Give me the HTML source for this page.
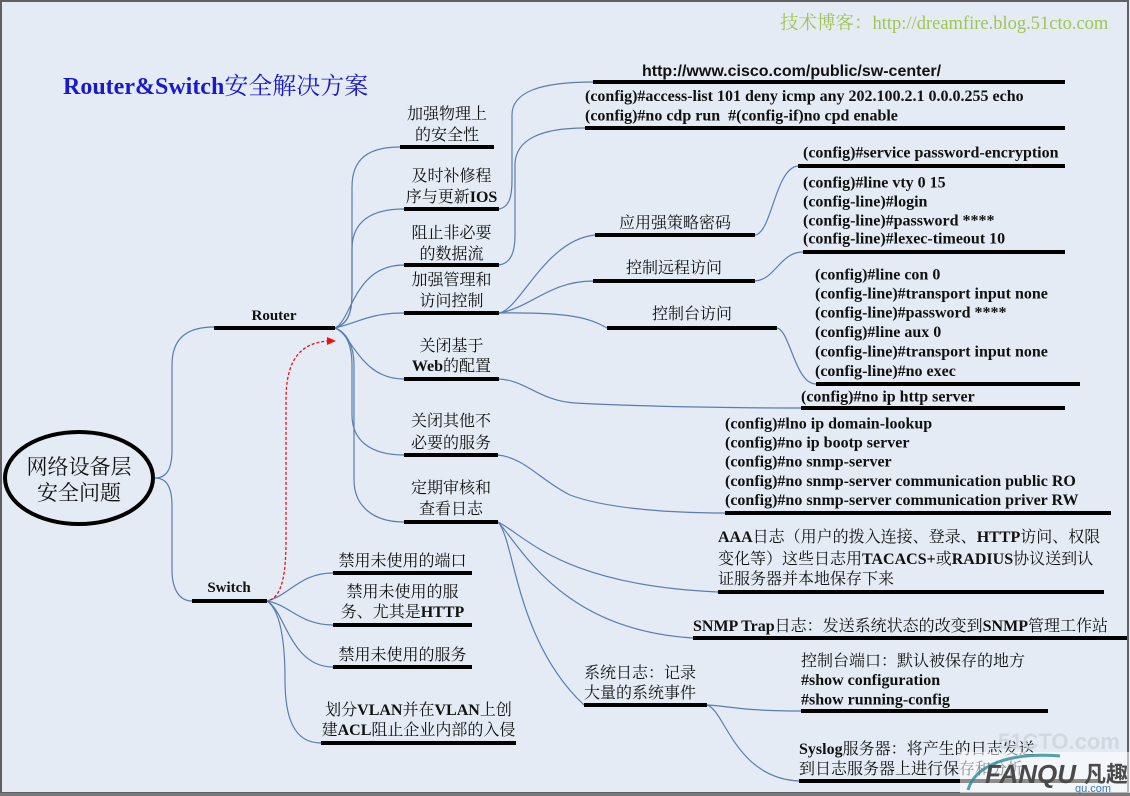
<!DOCTYPE html>
<html>
<head>
<meta charset="utf-8">
<style>
html,body{margin:0;padding:0;background:#e4ebf5;}
body{width:1130px;height:796px;overflow:hidden;}
svg{display:block;}
.c{fill:none;stroke:#5a7db0;stroke-width:1.2;}
.u{stroke:#000;stroke-width:4;}
.t{font-family:"Liberation Serif","Noto Serif CJK SC",serif;font-size:16px;fill:#111;}
.m{text-anchor:middle;}
.b{font-weight:bold;}
</style>
</head>
<body>
<svg width="1130" height="796" viewBox="0 0 1130 796" xmlns="http://www.w3.org/2000/svg">
<rect x="0" y="0" width="1130" height="796" fill="#e4ebf5"/>
<rect x="1" y="1" width="1127" height="792" fill="none" stroke="#606060" stroke-width="2"/>
<rect x="0" y="793" width="1130" height="3" fill="#7a7a7a"/>

<!-- title -->
<text x="63" y="94" font-size="24" fill="#1a1acd" font-family="Liberation Serif,'Noto Serif CJK SC',serif"><tspan font-weight="bold">Router&amp;Switch</tspan><tspan>安全解决方案</tspan></text>
<text x="780" y="29" font-size="18.5" fill="#9fc650" font-family="Liberation Serif,'Noto Serif CJK SC',serif">技术博客：http://dreamfire.blog.51cto.com</text>

<!-- connectors -->
<g class="c">
<!-- root -->
<path d="M155,478 C166,478 172,470 172,450 L172,365 C172,340 185,327 214,327"/>
<path d="M155,478 C166,478 172,486 172,506 L172,570 C172,590 180,601 192,601"/>
<!-- router branches -->
<path d="M335,328 C348,324 352,312 352,295 L352,187 C352,159 368,147 400,147"/>
<path d="M335,328 C348,324 352,312 352,295 L352,249 C352,221 372,209 404,209"/>
<path d="M335,328 C352,320 354,265 404,265"/>
<path d="M335,328 C360,322 370,313 404,313"/>
<path d="M335,328 C352,334 360,379 404,379"/>
<path d="M335,328 C346,332 352,345 352,365 L352,415 C352,440 370,455 404,455"/>
<path d="M335,328 C346,332 354,345 354,365 L354,480 C354,505 372,522 404,522"/>
<!-- level 3 -->
<path d="M499,209 C510,207 512,195 512,180 L512,115 C512,92 540,82 593,82"/>
<path d="M499,265 C512,263 515,250 515,235 L515,165 C515,140 540,128 585,128"/>
<path d="M499,313 C520,310 545,240 595,235"/>
<path d="M499,313 C530,308 550,281 593,281"/>
<path d="M499,313 C570,312 590,318 607,328"/>
<path d="M755,235 C772,233 775,168 798,166"/>
<path d="M755,281 C775,280 780,252 803,252"/>
<path d="M777,328 C790,330 795,384 816,384"/>
<path d="M499,379 C525,380 540,401 575,403 C650,407 750,408 801,408"/>
<path d="M498,455 C525,458 540,480 570,495 C610,510 680,513 725,513"/>
<path d="M498,522 C525,535 560,585 718,592"/>
<path d="M498,522 C520,545 560,630 693,638"/>
<path d="M498,522 C515,540 515,640 584,705"/>
<path d="M707,705 C730,706 740,711 801,711"/>
<path d="M707,705 C725,710 735,778 799,781"/>
<!-- switch branches -->
<path d="M267,601 C290,595 300,573 333,573"/>
<path d="M267,601 C290,605 300,625 333,625"/>
<path d="M267,601 C285,610 290,667 333,667"/>
<path d="M267,601 C280,610 285,640 285,680 C285,720 295,743 321,743"/>
</g>

<!-- red dashed arrow -->
<path d="M270,600 C283,595 286,570 286,540 L286,400 C286,360 300,343 328,341" fill="none" stroke="#ee1111" stroke-width="1.3" stroke-dasharray="3,2"/>
<polygon points="327,337 336,341 327,345" fill="#ee1111"/>

<!-- underlines -->
<g class="u">
<line x1="214" y1="328" x2="335" y2="328"/>
<line x1="192" y1="601" x2="267" y2="601"/>
<line x1="400" y1="147" x2="494" y2="147"/>
<line x1="404" y1="209" x2="499" y2="209"/>
<line x1="404" y1="265" x2="499" y2="265"/>
<line x1="404" y1="313" x2="499" y2="313"/>
<line x1="404" y1="379" x2="499" y2="379"/>
<line x1="404" y1="455" x2="498" y2="455"/>
<line x1="404" y1="522" x2="498" y2="522"/>
<line x1="333" y1="573" x2="472" y2="573"/>
<line x1="333" y1="625" x2="472" y2="625"/>
<line x1="333" y1="667" x2="472" y2="667"/>
<line x1="321" y1="743" x2="516" y2="743"/>
<line x1="593" y1="82" x2="1065" y2="82"/>
<line x1="585" y1="128" x2="1065" y2="128"/>
<line x1="595" y1="235" x2="755" y2="235"/>
<line x1="593" y1="281" x2="755" y2="281"/>
<line x1="607" y1="328" x2="777" y2="328"/>
<line x1="798" y1="166" x2="1065" y2="166"/>
<line x1="803" y1="252" x2="1065" y2="252"/>
<line x1="816" y1="384" x2="1080" y2="384"/>
<line x1="801" y1="408" x2="1065" y2="408"/>
<line x1="725" y1="513" x2="1111" y2="513"/>
<line x1="718" y1="592" x2="1104" y2="592"/>
<line x1="693" y1="638" x2="1127" y2="638"/>
<line x1="584" y1="705" x2="707" y2="705"/>
<line x1="801" y1="711" x2="1048" y2="711"/>
<line x1="799" y1="781" x2="1100" y2="781"/>
</g>

<!-- root ellipse -->
<ellipse cx="79" cy="478" rx="74" ry="46" fill="none" stroke="#000" stroke-width="4"/>
<text x="79" y="474" class="t m" font-size="21" style="font-size:21px">网络设备层</text>
<text x="79" y="500" class="t m" style="font-size:21px">安全问题</text>

<!-- level 1 -->
<text x="274" y="320" class="t m b" style="font-size:15px">Router</text>
<text x="229" y="592" class="t m b" style="font-size:15px">Switch</text>

<!-- router children -->
<text x="447" y="119" class="t m">加强物理上</text>
<text x="447" y="140" class="t m">的安全性</text>
<text x="451.5" y="181" class="t m">及时补修程</text>
<text x="451.5" y="202" class="t m">序与更新<tspan class="b">IOS</tspan></text>
<text x="451.5" y="238" class="t m">阻止非必要</text>
<text x="451.5" y="259" class="t m">的数据流</text>
<text x="451.5" y="285" class="t m">加强管理和</text>
<text x="451.5" y="306" class="t m">访问控制</text>
<text x="451.5" y="351" class="t m">关闭基于</text>
<text x="451.5" y="371" class="t m"><tspan class="b">Web</tspan>的配置</text>
<text x="451" y="426" class="t m">关闭其他不</text>
<text x="451" y="448" class="t m">必要的服务</text>
<text x="451" y="493" class="t m">定期审核和</text>
<text x="451" y="514" class="t m">查看日志</text>

<!-- switch children -->
<text x="402.5" y="566" class="t m">禁用未使用的端口</text>
<text x="402.5" y="597" class="t m">禁用未使用的服</text>
<text x="402.5" y="617" class="t m">务、尤其是<tspan class="b">HTTP</tspan></text>
<text x="402.5" y="660" class="t m">禁用未使用的服务</text>
<text x="418.5" y="715" class="t m">划分<tspan class="b">VLAN</tspan>并在<tspan class="b">VLAN</tspan>上创</text>
<text x="418.5" y="735" class="t m">建<tspan class="b">ACL</tspan>阻止企业内部的入侵</text>

<!-- level 3 -->
<text x="642" y="76" font-family="Liberation Sans,sans-serif" font-weight="bold" font-size="16" fill="#111">http://www.cisco.com/public/sw-center/</text>
<text x="585" y="101" class="t b">(config)#access-list 101 deny icmp any 202.100.2.1 0.0.0.255 echo</text>
<text x="585" y="120.5" class="t b" xml:space="preserve">(config)#no cdp run  #(config-if)no cpd enable</text>

<text x="675" y="228" class="t m">应用强策略密码</text>
<text x="674" y="273" class="t m">控制远程访问</text>
<text x="692" y="319" class="t m">控制台访问</text>

<text x="803" y="157.5" class="t b">(config)#service password-encryption</text>
<text x="803" y="187.5" class="t b">(config)#line vty 0 15</text>
<text x="803" y="206.5" class="t b">(config-line)#login</text>
<text x="803" y="225.5" class="t b">(config-line)#password ****</text>
<text x="803" y="243.5" class="t b">(config-line)#lexec-timeout 10</text>

<text x="815" y="279.5" class="t b">(config)#line con 0</text>
<text x="815" y="298.5" class="t b">(config-line)#transport input none</text>
<text x="815" y="317.5" class="t b">(config-line)#password ****</text>
<text x="815" y="337" class="t b">(config)#line aux 0</text>
<text x="815" y="356.5" class="t b">(config-line)#transport input none</text>
<text x="815" y="376" class="t b">(config-line)#no exec</text>

<text x="801" y="401.5" class="t b">(config)#no ip http server</text>

<text x="725" y="428.5" class="t b">(config)#lno ip domain-lookup</text>
<text x="725" y="447.5" class="t b">(config)#no ip bootp server</text>
<text x="725" y="466.5" class="t b">(config)#no snmp-server</text>
<text x="725" y="486" class="t b">(config)#no snmp-server communication public RO</text>
<text x="725" y="505" class="t b">(config)#no snmp-server communication priver RW</text>

<text x="718" y="542" class="t"><tspan class="b">AAA</tspan>日志（用户的拨入连接、登录、<tspan class="b">HTTP</tspan>访问、权限</text>
<text x="718" y="564" class="t">变化等）这些日志用<tspan class="b">TACACS+</tspan>或<tspan class="b">RADIUS</tspan>协议送到认</text>
<text x="718" y="584" class="t">证服务器并本地保存下来</text>

<text x="693" y="631" class="t"><tspan class="b">SNMP Trap</tspan>日志：发送系统状态的改变到<tspan class="b">SNMP</tspan>管理工作站</text>

<text x="584" y="678" class="t">系统日志：记录</text>
<text x="584" y="698" class="t">大量的系统事件</text>

<text x="801" y="666" class="t">控制台端口：默认被保存的地方</text>
<text x="801" y="685" class="t b">#show configuration</text>
<text x="801" y="704.5" class="t b">#show running-config</text>

<text x="799" y="754" class="t"><tspan class="b">Syslog</tspan>服务器：将产生的日志发送</text>
<text x="799" y="774" class="t">到日志服务器上进行保存和分析</text>

<!-- bottom-right watermark -->
<text x="998" y="749" font-family="Liberation Sans,sans-serif" font-weight="bold" font-size="22" fill="#d2d6dc" opacity="0.9">51CTO.com</text>
<rect x="960" y="752" width="170" height="41" fill="#ffffff" opacity="0.55"/>
<path d="M968,790 C975,765 1010,752 1060,756" fill="none" stroke="#2a8aa0" stroke-width="3" opacity="0.8"/>
<text x="985" y="783" font-family="Liberation Sans,sans-serif" font-weight="bold" font-style="italic" font-size="26" fill="#4a4a4a">FANQU</text>
<text x="1084" y="782" font-family="'Noto Sans CJK SC',sans-serif" font-weight="bold" font-size="22" fill="#4a4a4a">凡趣</text>
<text x="1075" y="792" font-family="Liberation Sans,sans-serif" font-size="11" fill="#3a7ac0">qu.com</text>
</svg>
</body>
</html>
